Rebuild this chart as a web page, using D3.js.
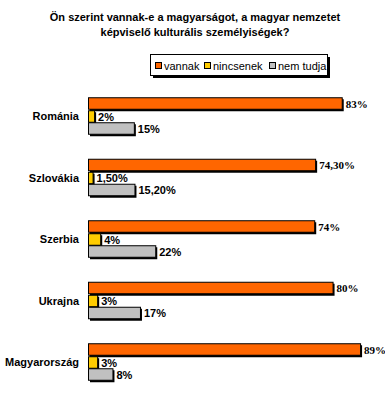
<!DOCTYPE html>
<html>
<head>
<meta charset="utf-8">
<script src="https://cdn.jsdelivr.net/npm/d3@7"></script>
<style>
body { margin: 0; background: #fff; }
</style>
</head>
<body>
<script>
var categories = ["Románia", "Szlovákia", "Szerbia", "Ukrajna", "Magyarország"]
var seriesNames = ["vannak", "nincsenek", "nem tudja"]
var seriesColors = ["#ff6600", "#ffcc00", "#c0c0c0"]
var vannak = [83, 74.3, 74, 80, 89]
var nincsenek = [2, 1.5, 4, 3, 3]
var nemTudja = [15, 15.2, 22, 17, 8]
var titleLines = ["Ön szerint vannak-e a magyarságot, a magyar nemzetet", "képviselő kulturális személyiségek?"]

var sans = "'Liberation Sans', Arial, sans-serif"
var serif = "'Liberation Serif', 'Times New Roman', serif"

var width = 385, height = 393
var svg = d3.select("body").append("svg")
	.attr("width", width)
	.attr("height", height)

var fmt = (v) => (Number.isInteger(v) ? v : v.toFixed(2).replace(".", ",")) + "%"

var rows = categories.map((c, i) => ({
	cat: c,
	values: [vannak[i], nincsenek[i], nemTudja[i]]
}))

var x = d3.scaleLinear().domain([0, 100]).range([88, 88 + 305.7])
var y = d3.scaleBand().domain(categories).range([85.5, 393]).paddingInner(0.382).paddingOuter(0.191)
var ySub = d3.scaleBand().domain(d3.range(3)).range([0, y.bandwidth()])

// title
svg.selectAll(".title")
	.data(titleLines)
	.enter().append("text")
	.attr("x", 195)
	.attr("y", (d, i) => 21 + i * 15)
	.attr("text-anchor", "middle")
	.attr("font-family", sans)
	.attr("font-size", 11)
	.attr("font-weight", "bold")
	.text((d) => d)

// legend
var legend = svg.append("g").attr("transform", "translate(150,54)")
legend.append("rect").attr("x", 3).attr("y", 3).attr("width", 177).attr("height", 21).attr("fill", "#000")
legend.append("rect").attr("x", 0.5).attr("y", 0.5).attr("width", 177).attr("height", 21)
	.attr("fill", "#fff").attr("stroke", "#000")
var legendX = [5, 54, 119]
var items = legend.selectAll(".item")
	.data(seriesNames)
	.enter().append("g")
	.attr("transform", (d, i) => "translate(" + legendX[i] + ",0)")
items.append("rect")
	.attr("x", 0.5).attr("y", 8.5).attr("width", 6).attr("height", 6)
	.attr("fill", (d, i) => seriesColors[i]).attr("stroke", "#000")
items.append("text")
	.attr("x", 9).attr("y", 15.5)
	.attr("font-family", sans)
	.attr("font-size", 11)
	.text((d) => d)

// category labels
svg.selectAll(".cat")
	.data(categories)
	.enter().append("text")
	.attr("x", 79)
	.attr("y", (d) => y(d) + y.bandwidth() / 2 + 4)
	.attr("text-anchor", "end")
	.attr("font-family", sans)
	.attr("font-size", 11)
	.attr("font-weight", "bold")
	.text((d) => d)

// bars
var group = svg.selectAll(".grp")
	.data(rows)
	.enter().append("g")
	.attr("transform", (d) => "translate(0," + y(d.cat) + ")")

var bar = group.selectAll(".bar")
	.data((d) => d.values.map((v, i) => ({ v: v, i: i })))
	.enter().append("g")

bar.append("rect")
	.attr("x", x(0) + 2)
	.attr("y", (d) => Math.round(ySub(d.i)) + 2)
	.attr("width", (d) => x(d.v) - x(0))
	.attr("height", 12)
	.attr("fill", "#000")
bar.append("rect")
	.attr("x", x(0) + 0.5)
	.attr("y", (d) => Math.round(ySub(d.i)) + 0.5)
	.attr("width", (d) => x(d.v) - x(0))
	.attr("height", 11.5)
	.attr("fill", (d) => seriesColors[d.i])
	.attr("stroke", "#000")
bar.append("text")
	.attr("x", (d) => x(d.v) + 4)
	.attr("y", (d) => Math.round(ySub(d.i)) + 10.5)
	.attr("font-family", (d) => d.i == 0 ? serif : sans)
	.attr("font-size", 11)
	.attr("font-weight", "bold")
	.text((d) => fmt(d.v))
</script>
</body>
</html>
